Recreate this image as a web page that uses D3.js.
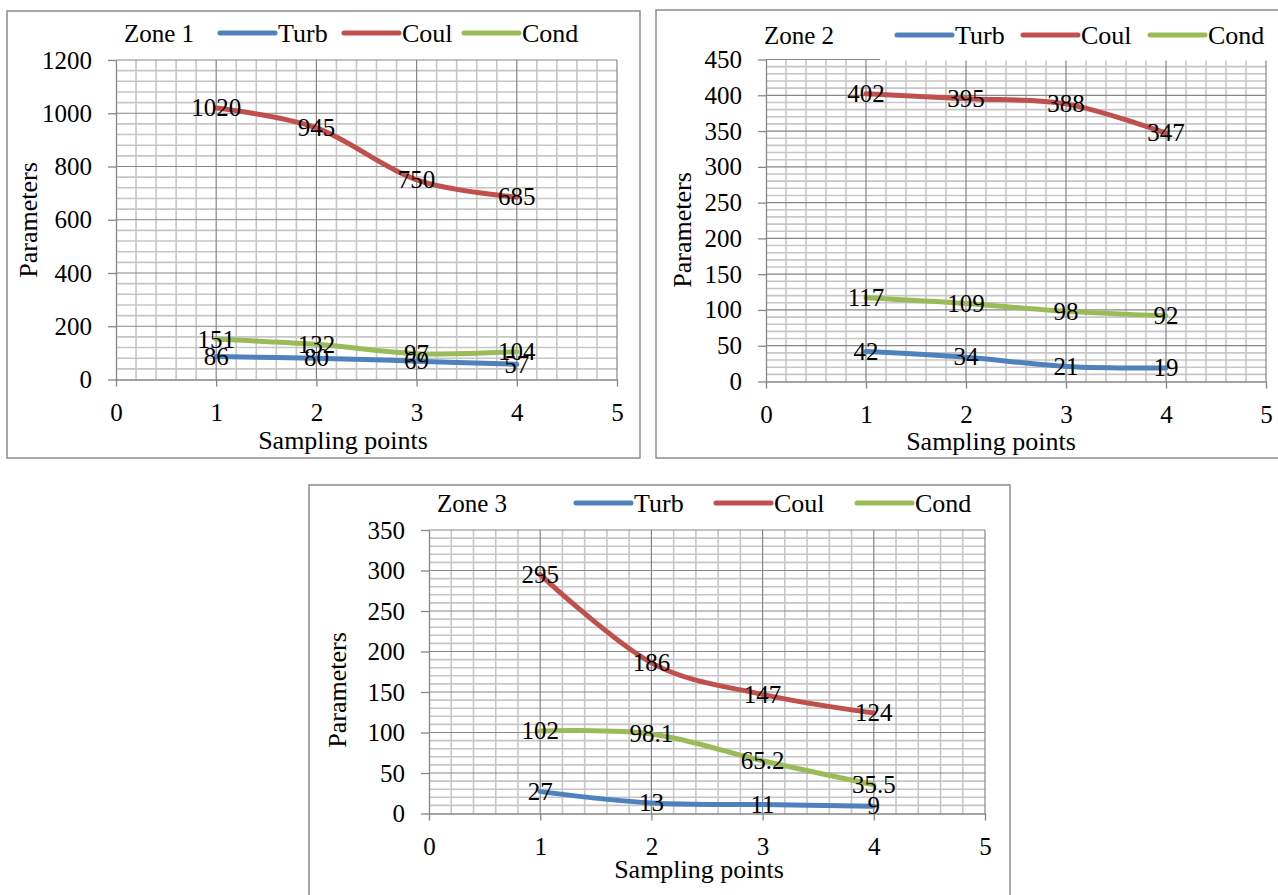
<!DOCTYPE html>
<html>
<head>
<meta charset="utf-8">
<script src="https://cdn.jsdelivr.net/npm/d3@7"></script>
<style>
  html, body { margin: 0; padding: 0; background: #fff; }
  svg { display: block; }
  svg text { font-family: "Liberation Serif", "Times New Roman", serif; }
</style>
</head>
<body>
<svg id="chart" width="1278" height="895"></svg>
<script>
'use strict';

// Three zone panels: turbidity, colour and conductivity along four sampling points.
var SAMPLING_POINTS = [1, 2, 3, 4];
var X_TICKS = [0, 1, 2, 3, 4, 5];
var SERIES_NAMES = ['Turb', 'Coul', 'Cond'];
var SERIES_COLORS = ['#4F81BD', '#C0504D', '#9BBB59'];

var ZONE1_TURB = [86, 80, 69, 57];
var ZONE1_COUL = [1020, 945, 750, 685];
var ZONE1_COND = [151, 132, 97, 104];
var ZONE1_TICKS = [0, 200, 400, 600, 800, 1000, 1200];

var ZONE2_TURB = [42, 34, 21, 19];
var ZONE2_COUL = [402, 395, 388, 347];
var ZONE2_COND = [117, 109, 98, 92];
var ZONE2_TICKS = [0, 50, 100, 150, 200, 250, 300, 350, 400, 450];

var ZONE3_TURB = [27, 13, 11, 9];
var ZONE3_COUL = [295, 186, 147, 124];
var ZONE3_COND = [102, 98.1, 65.2, 35.5];
var ZONE3_TICKS = [0, 50, 100, 150, 200, 250, 300, 350];

var FONT = '"Liberation Serif", "Times New Roman", serif';
var FONT_SIZE = 25;
var MAJOR = '#868686';
var MINOR = '#c6c6c6';

var PANELS = [
  {
    title: 'Zone 1', series: [ZONE1_TURB, ZONE1_COUL, ZONE1_COND], ticks: ZONE1_TICKS, minorStep: 40,
    box: [7, 11, 633, 447], plot: { left: 116, right: 617, top: 60, bottom: 379.5 },
    legend: { titleX: 124, y: 33, entries: [220, 344, 464] },
    yTitle: [28, 220], xTitle: [343, 449], cover: null
  },
  {
    title: 'Zone 2', series: [ZONE2_TURB, ZONE2_COUL, ZONE2_COND], ticks: ZONE2_TICKS, minorStep: 10,
    box: [656, 10, 640, 448], plot: { left: 766, right: 1266, top: 59.5, bottom: 381.5 },
    legend: { titleX: 764, y: 35, entries: [897, 1023, 1150] },
    yTitle: [682, 230], xTitle: [991, 450], cover: [880, 20, 398, 40.5]
  },
  {
    title: 'Zone 3', series: [ZONE3_TURB, ZONE3_COUL, ZONE3_COND], ticks: ZONE3_TICKS, minorStep: 10,
    box: [309, 485, 701, 440], plot: { left: 429, right: 985, top: 530, bottom: 813.5 },
    legend: { titleX: 437, y: 503, entries: [576, 716, 857] },
    yTitle: [337, 690], xTitle: [699, 878], cover: null
  }
];

var svg = d3.select('#chart');

PANELS.forEach(drawPanel);

function setFont(sel, size) {
  return sel.attr('font-family', FONT).attr('font-size', size || FONT_SIZE)
    .style('font-family', FONT).style('font-size', (size || FONT_SIZE) + 'px').style('fill', '#000');
}

function drawPanel(cfg) {
  var g = svg.append('g');
  var maxY = cfg.ticks[cfg.ticks.length - 1];
  var x = d3.scaleLinear().domain([0, 5]).range([cfg.plot.left, cfg.plot.right]);
  var y = d3.scaleLinear().domain([0, maxY]).range([cfg.plot.bottom, cfg.plot.top]);

  g.append('rect')
    .attr('x', cfg.box[0]).attr('y', cfg.box[1])
    .attr('width', cfg.box[2]).attr('height', cfg.box[3])
    .style('fill', '#fff').style('stroke', '#8c8c8c').style('stroke-width', 1.5);

  // minor gridlines
  var minorY = d3.range(cfg.minorStep, maxY, cfg.minorStep).filter(function (v) {
    return cfg.ticks.indexOf(v) < 0;
  });
  var minorX = d3.range(1, 25).map(function (i) { return i / 5; }).filter(function (v) {
    return Math.abs(v - Math.round(v)) > 1e-6;
  });
  g.append('g').selectAll('line').data(minorY).join('line')
    .attr('x1', x(0)).attr('x2', x(5))
    .attr('y1', function (d) { return y(d); }).attr('y2', function (d) { return y(d); })
    .style('stroke', MINOR).style('stroke-width', 1.6);
  g.append('g').selectAll('line').data(minorX).join('line')
    .attr('y1', y(0)).attr('y2', y(maxY))
    .attr('x1', function (d) { return x(d); }).attr('x2', function (d) { return x(d); })
    .style('stroke', MINOR).style('stroke-width', 1.6);

  // major gridlines
  g.append('g').selectAll('line').data(cfg.ticks.slice(1)).join('line')
    .attr('x1', x(0)).attr('x2', x(5))
    .attr('y1', function (d) { return y(d); }).attr('y2', function (d) { return y(d); })
    .style('stroke', MAJOR).style('stroke-width', 1.2);
  g.append('g').selectAll('line').data(X_TICKS.slice(1)).join('line')
    .attr('y1', y(0)).attr('y2', y(maxY))
    .attr('x1', function (d) { return x(d); }).attr('x2', function (d) { return x(d); })
    .style('stroke', MAJOR).style('stroke-width', 1.2);

  if (cfg.cover) {
    g.append('rect')
      .attr('x', cfg.cover[0]).attr('y', cfg.cover[1])
      .attr('width', cfg.cover[2]).attr('height', cfg.cover[3])
      .style('fill', '#fff');
  }

  var yAxis = g.append('g')
    .attr('transform', 'translate(' + x(0) + ',0)')
    .call(d3.axisLeft(y).tickValues(cfg.ticks).tickFormat(d3.format('d'))
      .tickSize(8).tickSizeOuter(0).tickPadding(16));
  var xAxis = g.append('g')
    .attr('transform', 'translate(0,' + y(0) + ')')
    .call(d3.axisBottom(x).tickValues(X_TICKS).tickFormat(d3.format('d'))
      .tickSize(7).tickSizeOuter(0).tickPadding(17));
  [yAxis, xAxis].forEach(function (axis) {
    setFont(axis);
    axis.selectAll('path, line').style('stroke', MAJOR).style('stroke-width', 1.3);
    setFont(axis.selectAll('text'));
  });

  var line = d3.line()
    .x(function (d, i) { return x(SAMPLING_POINTS[i]); })
    .y(function (d) { return y(d); })
    .curve(d3.curveCardinal.tension(0));

  cfg.series.forEach(function (values, s) {
    g.append('path')
      .attr('d', line(values))
      .style('fill', 'none')
      .style('stroke', SERIES_COLORS[s])
      .style('stroke-width', 5)
      .style('stroke-linecap', 'round');
  });

  cfg.series.forEach(function (values) {
    setFont(g.append('g').selectAll('text').data(values).join('text')
      .attr('x', function (d, i) { return x(SAMPLING_POINTS[i]); })
      .attr('y', function (d) { return y(d); })
      .attr('dy', '0.33em')
      .attr('text-anchor', 'middle')
      .text(function (d) { return d; }));
  });

  // legend
  setFont(g.append('text')
    .attr('x', cfg.legend.titleX).attr('y', cfg.legend.y + 9)
    .text(cfg.title));
  SERIES_NAMES.forEach(function (name, s) {
    var lx = cfg.legend.entries[s];
    g.append('line')
      .attr('x1', lx).attr('x2', lx + 55)
      .attr('y1', cfg.legend.y).attr('y2', cfg.legend.y)
      .style('stroke', SERIES_COLORS[s]).style('stroke-width', 5).style('stroke-linecap', 'round');
    setFont(g.append('text')
      .attr('x', lx + 58).attr('y', cfg.legend.y + 9)
      .text(name), 26);
  });

  setFont(g.append('text')
    .attr('x', cfg.xTitle[0]).attr('y', cfg.xTitle[1])
    .attr('text-anchor', 'middle')
    .text('Sampling points'), 26);
  setFont(g.append('text')
    .attr('transform', 'translate(' + cfg.yTitle[0] + ',' + cfg.yTitle[1] + ') rotate(-90)')
    .attr('dy', '0.33em')
    .attr('text-anchor', 'middle')
    .text('Parameters'), 26);
}
</script>
</body>
</html>
